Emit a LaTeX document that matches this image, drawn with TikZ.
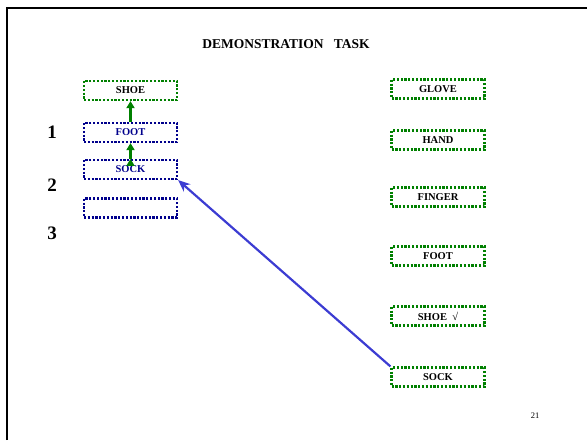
\documentclass[tikz,border=0pt]{standalone}
\usepackage{fontspec}
\setmainfont{Liberation Serif}
\usetikzlibrary{arrows.meta}
\definecolor{cardgreen}{RGB}{0,128,0}
\definecolor{cardblue}{RGB}{0,0,140}
\definecolor{linkblue}{RGB}{60,60,210}

\begin{document}
\begin{tikzpicture}[x=1pt, y=-1pt,
    card/.style={draw, rectangle, minimum width=93pt, minimum height=19pt, inner sep=0pt,
        line width=2.2pt, dash pattern=on 2.2pt off 1.6pt,
        font=\fontsize{10.5}{11}\selectfont\bfseries},
    green card/.style={card, draw=cardgreen},
    blue card/.style={card, draw=cardblue, text=cardblue},
    step num/.style={font=\fontsize{19}{20}\selectfont\bfseries}]
    \useasboundingbox (0,0) rectangle (587,440);
    \draw[line width=2.5pt] (7,440) -- (7,8) -- (587,8);

    \node[font=\fontsize{13.5}{14}\selectfont\bfseries] (title) at (286,44) {DEMONSTRATION\ \ \ TASK};

    % left column
    \node[green card] (lshoe) at (130.5,90.5) {SHOE};
    \node[blue card] (lfoot) at (130.5,132.5) {FOOT};
    \node[blue card] (lsock) at (130.5,169.5) {SOCK};
    \node[blue card] (lempty) at (130.5,208) {};

    \node[step num] (n1) at (52,132) {1};
    \node[step num] (n2) at (52,185) {2};
    \node[step num] (n3) at (52,233) {3};

    % right column
    \node[green card] (rglove) at (438,89) {GLOVE};
    \node[green card] (rhand) at (438,140) {HAND};
    \node[green card] (rfinger) at (438,197) {FINGER};
    \node[green card] (rfoot) at (438,256) {FOOT};
    \node[green card] (rshoe) at (438,316) {SHOE\ \ √};
    \node[green card] (rsock) at (438,377) {SOCK};

    \node[font=\fontsize{8.5}{9}\selectfont] (page) at (535,416) {21};

    \draw[cardgreen, line width=2.2pt, -{Triangle[length=7pt, width=8pt]}]
        (lfoot.north) edge (lshoe.south)
        (lsock.north) edge (lfoot.south);
    \draw[linkblue, line width=2.2pt, -{Stealth[length=12pt, width=10pt]}]
        (rsock.north west) -- (lsock.south east);
\end{tikzpicture}
\end{document}
